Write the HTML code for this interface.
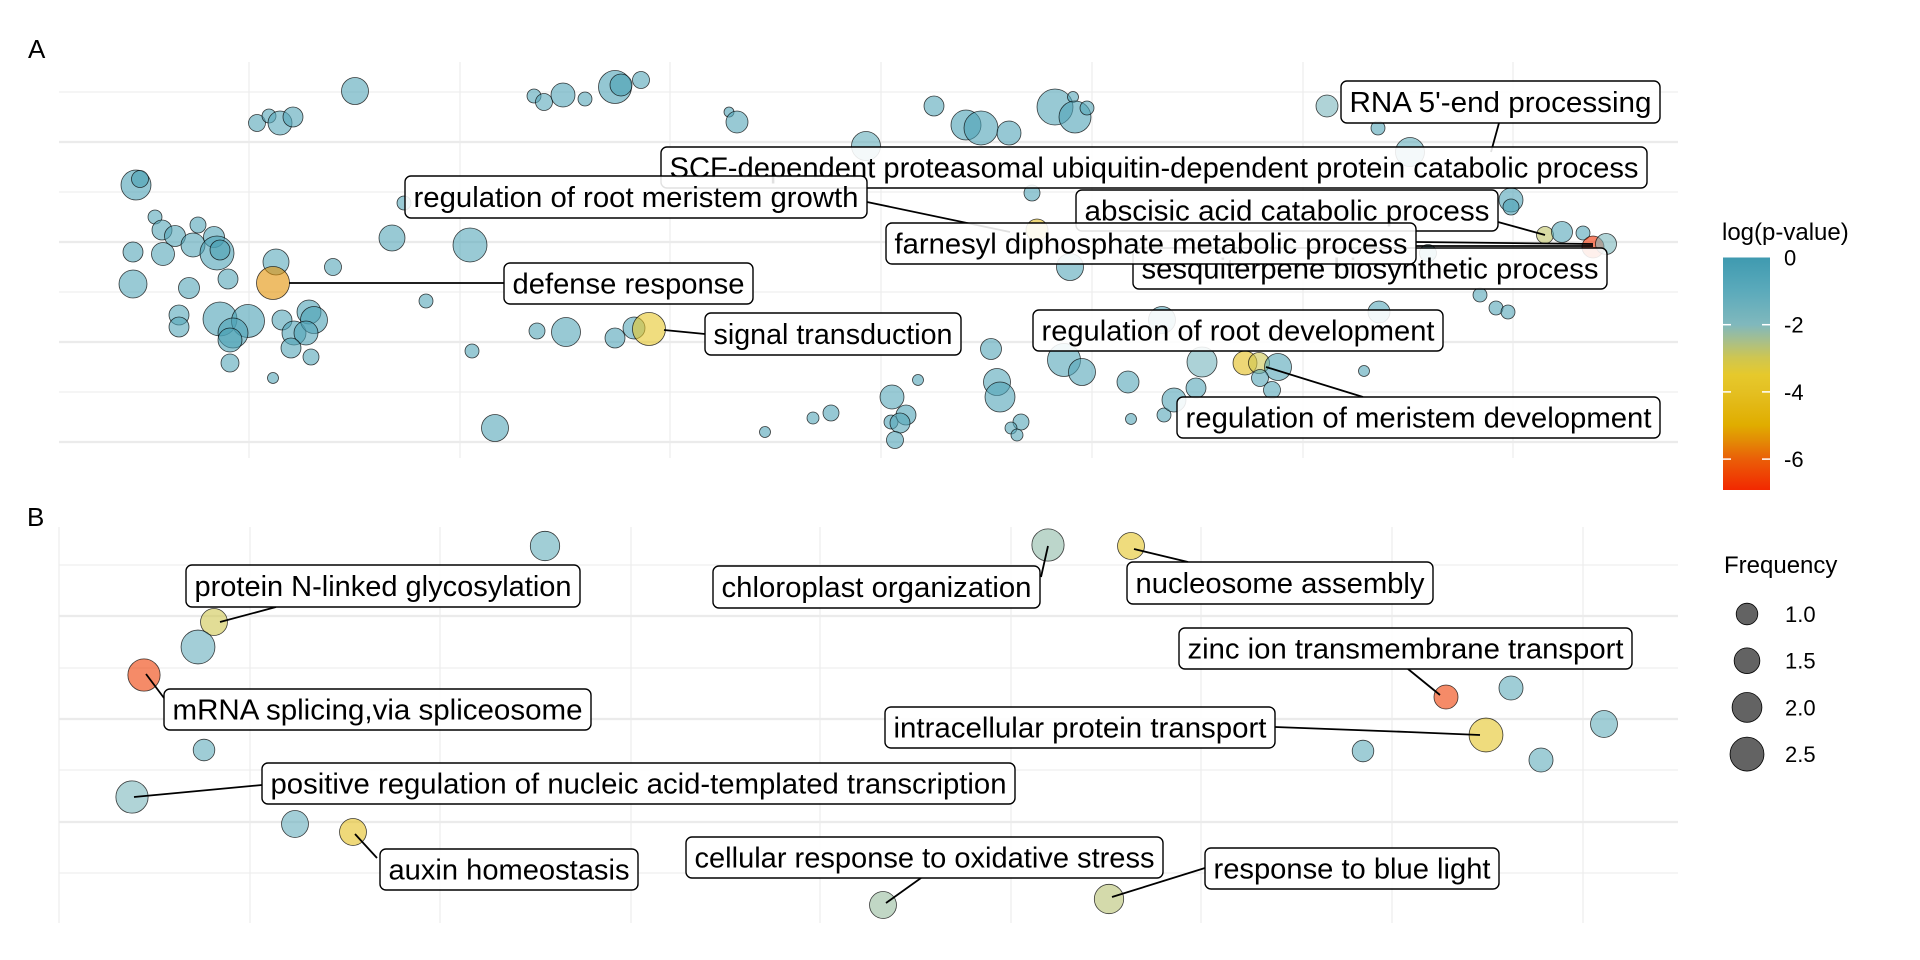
<!DOCTYPE html>
<html><head><meta charset="utf-8">
<style>
html,body{margin:0;padding:0;background:#fff;}
svg{display:block;font-family:"Liberation Sans",Arial,sans-serif;}
</style></head>
<body>
<svg id="chart" width="1920" height="960" viewBox="0 0 1920 960" xmlns="http://www.w3.org/2000/svg">
  <defs>
    <linearGradient id="cbar" x1="0" y1="0" x2="0" y2="1">
      <stop offset="0" stop-color="#3F9AB0"/>
      <stop offset="0.144" stop-color="#5BAABB"/>
      <stop offset="0.288" stop-color="#80B8BD"/>
      <stop offset="0.36" stop-color="#A8BF8A"/>
      <stop offset="0.432" stop-color="#CFC650"/>
      <stop offset="0.504" stop-color="#E6C92C"/>
      <stop offset="0.576" stop-color="#E4C022"/>
      <stop offset="0.72" stop-color="#E0AD00"/>
      <stop offset="0.79" stop-color="#E38A05"/>
      <stop offset="0.864" stop-color="#EA6008"/>
      <stop offset="1" stop-color="#F22800"/>
    </linearGradient>
  </defs>
  <g id="gridA"></g>
  <g id="gridB"></g>
  <g id="pointsA"></g>
  <g id="pointsB"></g>
  <g id="labels"></g>
  <text x="28" y="58" font-size="26">A</text>
  <text x="27" y="526" font-size="26">B</text>
  <g id="legend">
    <text x="1722" y="240" font-size="24">log(p-value)</text>
    <rect x="1723" y="257.5" width="47" height="232.5" fill="url(#cbar)"/>
    <g id="cticks"></g>
    <text x="1724" y="573" font-size="24">Frequency</text>
    <g id="sizeKeys"></g>
  </g>
</svg>
<script>
// ---- Panel A data (x: px units from left of panel, y: px units from bottom) ----
const aX = [296,198,210,221,234,475,485,504,526,556,562,582,670,678,875,807,77,81,96,103,116,139,134,155,158,161,74,104,74,130,169,217,214,274,333,411,345,367,120,120,161,189,174,171,223,235,250,255,247,232,252,171,214,413,478,507,556,575,590,436,706,754,772,833,859,832,847,841,836,996,1014,1016,1028,907,922,950,1268,1319,1351,973,1452,1452,1486,1503,1524,1534,1547,1369,1011,1421,1437,1449,978,932,1005,1023,1069,938,941,962,952,958,1072,1105,1115,1137,1143,1186,1200,1219,1201,1213,1305,1320,1103];
const aY = [367,335,342,335,341,362,356,363,359,371,373,378,346,336,352,312,273,279,241,228,222,233,213,221,205,208,206,204,174,170,179,196,175,191,220,213,255,157,143,131,139,137,125,118,138,125,146,138,125,110,101,95,80,107,127,126,120,130,129,30,26,40,45,61,78,36,43,35,18,351,361,341,350,333,330,325,352,330,306,265,258,251,223,226,225,211,214,205,191,163,150,146,228,109,98,86,76,76,61,36,30,23,39,43,58,70,96,95,95,91,80,68,87,146,138];
const aSize = [2.7,1.7,1.4,2.4,2,1.4,1.7,2.4,1.4,3.3,2.2,1.7,1,2.2,2,2.9,3,1.7,1.4,2,2.1,1.6,2.4,2.1,3.4,2,2,2.3,2.8,2.1,2,2.6,3.3,1.7,2.6,3.4,1.4,1.4,2,2,3.4,3.3,3,2.4,2,2.4,2.4,2.7,2.4,2,1.6,1.8,1.1,1.4,1.6,2.9,2,2.2,3.3,2.7,1.1,1.2,1.6,2.4,1.1,1.4,2,2,1.7,3.6,1.1,3.2,1.4,3,3.4,2.4,2.2,1.4,2.9,1.6,2.4,1.6,1.7,2.1,1.4,2.2,2.1,1.7,2.7,1.4,1.4,1.4,2.2,2.1,3.3,2.7,2.2,2.7,3,1.6,1.2,1.2,1.1,1.4,2.4,2,3,2.4,2.1,2.7,1.7,1.7,1.1,2.2,2.7];
const aLogP = [-0.7,-0.7,-0.7,-0.9,-0.7,-0.7,-0.9,-0.6,-0.7,-0.5,-0.3,-0.7,-0.6,-0.7,-0.8,-1.2,-0.5,-0.3,-0.8,-0.7,-0.7,-0.6,-0.7,-0.6,-0.5,-0.3,-0.7,-0.7,-0.8,-0.7,-0.7,-0.9,-5.4,-0.7,-0.7,-0.8,-0.8,-0.8,-0.8,-0.8,-0.5,-0.4,-0.5,-0.4,-0.7,-0.5,-0.5,-0.4,-0.6,-0.7,-0.7,-0.8,-0.7,-0.7,-0.7,-0.7,-0.6,-0.8,-3.6,-0.7,-0.6,-0.7,-0.6,-0.8,-0.6,-0.6,-0.5,-0.7,-0.6,-0.7,-0.7,-0.5,-0.7,-0.4,-0.5,-0.6,-1.8,-0.7,-1.2,-0.6,-0.6,-0.4,-2.8,-0.7,-0.7,-6.8,-1.9,-0.7,-0.8,-0.7,-0.7,-0.7,-4,-0.7,-0.7,-0.7,-0.7,-0.8,-0.6,-0.7,-0.7,-0.7,-0.7,-0.7,-0.7,-0.7,-1.7,-4.2,-3,-0.7,-0.7,-0.7,-0.7,-0.8,-0.8];
// ---- Panel B data ----
const bX = [486,989,1072,155,139,85,1387,1452,1545,1427,1304,1482,145,73,236,294,824,1050];
const bY = [377,378,377,301,276,248,226,235,199,188,172,163,173,126,99,91,18,24];
const bFreq = [1.95,2.3,1.65,1.65,2.5,2.3,1.3,1.3,1.65,2.5,1,1.3,1,2.3,1.65,1.65,1.65,1.95];
const bLogP = [-1.2,-2.2,-3.8,-3,-1.3,-6.6,-6.6,-1.1,-1.2,-3.8,-1.1,-1.1,-1.1,-1.9,-1.3,-4,-2.3,-2.7];
// ---- legend data ----
const colorTicks = [0,-2,-4,-6];
const colorTickLabels = ["0","-2","-4","-6"];
const freqKeys = [1.0,1.5,2.0,2.5];
const freqKeyLabels = ["1.0","1.5","2.0","2.5"];

const NS = "http://www.w3.org/2000/svg";
function mk(tag, attrs, parent){const e=document.createElementNS(NS,tag);for(const k in attrs)e.setAttribute(k,attrs[k]);parent.appendChild(e);return e;}

const A = {x0:59,x1:1678,y0:62,y1:458};
const B = {x0:59,x1:1678,y0:527,y1:923};
function xA(v){return A.x0+v;}
function yA(v){return A.y1-v;}
function xB(v){return B.x0+v;}
function yB(v){return B.y1-v;}
function rA(s){return 5*s;}
function rB(f){return 10.8+(f-1)*4.1;}
function cY(v){return 257.5 - v*33.6;}

const stops=[[0,[63,154,176]],[-1,[91,170,187]],[-2,[128,184,189]],[-2.5,[168,191,138]],[-3,[207,198,80]],[-3.5,[230,201,44]],[-4,[228,192,34]],[-5,[224,173,0]],[-5.5,[227,138,5]],[-6,[234,96,8]],[-6.95,[242,40,0]]];
function color(v){
  if(v>=0)return 'rgb('+stops[0][1]+')';
  for(let i=0;i<stops.length-1;i++){const a=stops[i],b=stops[i+1];
    if(v<=a[0]&&v>=b[0]){const t=(a[0]-v)/(a[0]-b[0]);const c=a[1].map((x,j)=>Math.round(x+(b[1][j]-x)*t));return 'rgb('+c.join(',')+')';}}
  return 'rgb(242,40,0)';
}

const gA=document.getElementById('gridA');
[92,142,192,242,292,342,392,442].forEach((y,i)=>{const l=mk('line',{x1:A.x0,x2:A.x1,y1:y,y2:y,stroke:'#ebebeb','stroke-width':i%2?2.2:1.1},gA);});
[249,460,670,881,1092,1303,1513].forEach(x=>{const l=mk('line',{x1:x,x2:x,y1:A.y0,y2:A.y1,stroke:'#ebebeb','stroke-width':1.1},gA);});
const gB=document.getElementById('gridB');
[565,616,668,719,770,822,873].forEach((y,i)=>{const l=mk('line',{x1:B.x0,x2:B.x1,y1:y,y2:y,stroke:'#ebebeb','stroke-width':i%2?2.2:1.1},gB);});
[59,250,440,631,820,1011,1201,1392,1583].forEach(x=>{const l=mk('line',{x1:x,x2:x,y1:B.y0,y2:B.y1,stroke:'#ebebeb','stroke-width':1.1},gB);});

const pA=document.getElementById('pointsA');
aX.forEach((v,i)=>{const c=mk('circle',{cx:xA(v),cy:yA(aY[i]),r:rA(aSize[i]),fill:color(aLogP[i]),'fill-opacity':0.6,stroke:'#000','stroke-opacity':0.75,'stroke-width':0.8},pA);

});
const pB=document.getElementById('pointsB');
bX.forEach((v,i)=>{const c=mk('circle',{cx:xB(v),cy:yB(bY[i]),r:rB(bFreq[i]),fill:color(bLogP[i]),'fill-opacity':0.6,stroke:'#000','stroke-opacity':0.75,'stroke-width':0.8},pB);

});

const labs=[
 ["RNA 5'-end processing",1341,81,319,42,[[1499,123,1491,152]]],
 ["SCF-dependent proteasomal ubiquitin-dependent protein catabolic process",661,147,986,41,[]],
 ["regulation of root meristem growth",405,176,462,42,[[867,202,1010,232]]],
 ["abscisic acid catabolic process",1076,190,422,41,[[1498,222,1545,235]]],
 ["sesquiterpene biosynthetic process",1133,248,474,41,[[1416,242,1593,244],[1416,246,1593,246]]],
 ["farnesyl diphosphate metabolic process",886,223,530,41,[]],
 ["defense response",504,263,249,41,[[289,283,504,283]]],
 ["signal transduction",705,313,256,42,[[664,330,705,334]]],
 ["regulation of root development",1033,310,410,41,[]],
 ["regulation of meristem development",1177,397,483,41,[[1266,367,1363,397]]],
 ["protein N-linked glycosylation",186,565,394,42,[[276,607,220,622]]],
 ["chloroplast organization",713,566,327,42,[[1048,546,1041,577]]],
 ["nucleosome assembly",1127,562,306,42,[[1134,549,1188,562]]],
 ["zinc ion transmembrane transport",1179,628,453,41,[[1408,669,1440,695]]],
 ["mRNA splicing,via spliceosome",164,689,427,41,[[146,674,164,698]]],
 ["intracellular protein transport",885,707,390,41,[[1275,727,1408,732],[1408,732,1480,735]]],
 ["positive regulation of nucleic acid-templated transcription",262,763,753,41,[[134,797,262,785]]],
 ["auxin homeostasis",380,849,258,41,[[355,834,377,858]]],
 ["cellular response to oxidative stress",686,837,477,41,[[921,878,886,903]]],
 ["response to blue light",1205,848,294,41,[[1205,868,1112,897]]]
];
const L=document.getElementById('labels');
labs.forEach(d=>{
  d[5].forEach(s=>{const l=mk('line',{x1:s[0],y1:s[1],x2:s[2],y2:s[3],stroke:'#000','stroke-width':1.8},L);
  
  });
});
labs.forEach(d=>{
  const g=mk('g',{},L);
  
  
  mk('rect',{x:d[1],y:d[2],width:d[3],height:d[4],rx:6,ry:6,fill:'#fff','fill-opacity':0.88,stroke:'#000','stroke-width':1.4},g);
  const t=mk('text',{x:d[1]+8.5,y:d[2]+d[4]/2+10,'font-size':28.5,textLength:d[3]-17,lengthAdjust:'spacingAndGlyphs'},g);
  t.textContent=d[0];
});

const CT=document.getElementById('cticks');
colorTicks.forEach((v,i)=>{
  if(i>0){[[1723,1731],[1762,1770]].forEach(p=>{const l=mk('line',{x1:p[0],x2:p[1],y1:cY(v),y2:cY(v),stroke:'#fff','stroke-width':1.5},CT);
  
  });}
  const t=mk('text',{x:1784,y:cY(v)+8,'font-size':22},CT);
  
  
  t.textContent=colorTickLabels[i];
});
const SK=document.getElementById('sizeKeys');
freqKeys.forEach((f,i)=>{
  const y=614+i*46.7;
  const c=mk('circle',{cx:1747,cy:y,r:rB(f),fill:'#636363',stroke:'#000','stroke-width':0.8},SK);
  
  
  const t=mk('text',{x:1785,y:y+8,'font-size':22},SK);
  
  
  t.textContent=freqKeyLabels[i];
});
</script>
</body></html>
